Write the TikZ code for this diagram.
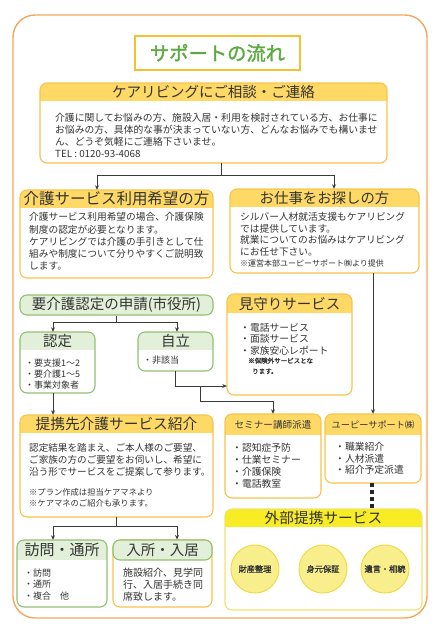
\documentclass[tikz,border=0pt]{standalone}
\usepackage{fontspec}
\setmainfont[AutoFakeBold=1.5]{Noto Sans CJK JP}
\usetikzlibrary{fit,calc,arrows.meta}
\definecolor{gold}{HTML}{FFD966}
\definecolor{goldline}{HTML}{F6C44C}
\definecolor{grn}{HTML}{E3F0D9}
\definecolor{grnline}{HTML}{92C072}
\definecolor{ttlgreen}{HTML}{5BAA3E}
\definecolor{ttlline}{HTML}{F2C230}
\definecolor{outer}{HTML}{F2A75E}
\definecolor{exthd}{HTML}{F8EC24}
\definecolor{extline}{HTML}{EEE46E}
\definecolor{circfill}{HTML}{F8EF8C}
\definecolor{circline}{HTML}{EEDC4A}
\definecolor{txt}{HTML}{333333}
\definecolor{lc}{HTML}{3A3A3A}
% name, x1, y1, x2, y2, header bottom y, header fill, border colour
\newcommand\mkcbox[8]{%
  \node[fit={(#2,#3) (#4,#5)}, inner sep=0pt, fill=white, rounded corners=7pt] (#1) {};
  \begin{scope}
    \clip[rounded corners=7pt] (#2,#3) rectangle (#4,#5);
    \fill[#7] (#2,#3) rectangle (#4,#6);
  \end{scope}
  \draw[#8, line width=1.1pt, rounded corners=7pt] (#2,#3) rectangle (#4,#5);
}
\begin{document}
\begin{tikzpicture}[x=1pt,y=-1pt,
  hd/.style={inner sep=0pt, text=txt},
  bt/.style={anchor=north west, inner sep=0pt, align=left, text=txt},
  arr/.style={draw=lc, line width=0.9pt, -{Stealth[length=4.5pt,width=4pt]}},
  ln/.style={draw=lc, line width=0.9pt},
  dots/.style={draw=black!85, line width=4.5pt, dash pattern=on 4pt off 3pt},
  circ/.style={circle, minimum size=48pt, inner sep=0pt, fill=circfill, draw=circline, line width=1pt, text=txt, font=\fontsize{8.2}{10}\selectfont\bfseries}
]
\useasboundingbox (0,0) rectangle (444,630);
% outer frame
\node[fit={(13,15) (427,618)}, inner sep=0pt, draw=outer, line width=1.4pt, rounded corners=22pt] (frame) {};
% title
\node[draw=ttlline, line width=1.6pt, minimum width=165pt, minimum height=34pt, inner sep=0pt,
  text=ttlgreen, font=\fontsize{19.3}{22}\selectfont\bfseries] (title) at (217.5,53) {サポートの流れ};

% box 1
\mkcbox{b1}{40}{83}{387}{163}{101}{gold}{goldline}
\node[hd, font=\fontsize{14.5}{16}\selectfont] (b1h) at (213.5,92) {ケアリビングにご相談・ご連絡};
\node[bt, font=\fontsize{9.8}{11.9}\selectfont] (b1t) at (55,113) {介護に関してお悩みの方、施設入居・利用を検討されている方、お仕事に\\お悩みの方、具体的な事が決まっていない方、どんなお悩みでも構いませ\\ん、どうぞ気軽にご連絡下さいませ。\\TEL : 0120-93-4068};

% box 2
\mkcbox{b2}{20}{190}{213}{278}{208}{gold}{goldline}
\node[hd, font=\fontsize{15.5}{17}\selectfont] (b2h) at (116.5,199) {介護サービス利用希望の方};
\node[bt, font=\fontsize{9.7}{12.2}\selectfont] (b2t) at (29,212.5) {介護サービス利用希望の場合、介護保険\\制度の認定が必要となります。\\ケアリビングでは介護の手引きとして仕\\組みや制度について分りやすくご説明致\\します。};

% box 3
\mkcbox{b3}{230}{189}{419}{273}{207}{gold}{goldline}
\node[hd, font=\fontsize{14.4}{16}\selectfont] (b3h) at (324.5,198) {お仕事をお探しの方};
\node[bt, font=\fontsize{9.7}{11.5}\selectfont] (b3t) at (240,212.5) {シルバー人材就活支援もケアリビング\\では提供しています。\\就業についてのお悩みはケアリビング\\にお任せ下さい。\\{\fontsize{8}{11}\selectfont ※運営本部ユーピーサポート㈱より提供}};

% application box
\node[fit={(20,295) (213,315)}, inner sep=0pt, fill=grn, draw=grnline, line width=1.1pt, rounded corners=7pt] (sh) {};
\node[hd, font=\fontsize{14.5}{16}\selectfont] (shh) at (116.5,305) {要介護認定の申請(市役所)};

% nintei
\mkcbox{nt}{20}{332}{95}{393}{350}{grn}{grnline}
\node[hd, font=\fontsize{14.5}{16}\selectfont] (nth) at (57.5,341) {認定};
\node[bt, font=\fontsize{9}{11}\selectfont] (ntt) at (25,358.5) {・要支援1～2\\・要介護1～5\\・事業対象者};

% jiritsu
\mkcbox{jr}{138}{332}{213}{371}{350}{grn}{grnline}
\node[hd, font=\fontsize{14.5}{16}\selectfont] (jrh) at (175.5,341) {自立};
\node[bt, font=\fontsize{9}{11}\selectfont] (jrt) at (143,355.5) {・非該当};

% mimamori
\mkcbox{mi}{227}{294}{352}{395}{313}{gold}{goldline}
\node[hd, font=\fontsize{14.5}{16}\selectfont] (mih) at (289.5,303.5) {見守りサービス};
\node[bt, font=\fontsize{9.8}{11.5}\selectfont] (mit) at (240,323) {・電話サービス\\・面談サービス\\・家族安心レポート};
\node[bt, font=\fontsize{6.5}{10.5}\selectfont\bfseries] (min) at (248,357.5) {※保険外サービスとな\\\hspace*{4pt}ります。};

% teikei
\mkcbox{tk}{20}{415}{213}{517}{433}{gold}{goldline}
\node[hd, font=\fontsize{14.7}{16}\selectfont] (tkh) at (116.5,424) {提携先介護サービス紹介};
\node[bt, font=\fontsize{9.6}{12}\selectfont] (tkt) at (29,443.5) {認定結果を踏まえ、ご本人様のご要望、\\ご家族の方のご要望をお伺いし、希望に\\沿う形でサービスをご提案して参ります。};
\node[bt, font=\fontsize{8.3}{11.5}\selectfont] (tkn) at (29,488) {※プラン作成は担当ケアマネより\\※ケアマネのご紹介も承ります。};

% seminar
\mkcbox{se}{225}{414}{321}{498}{435}{gold}{goldline}
\node[hd, font=\fontsize{9.6}{11}\selectfont] (seh) at (273,424.5) {セミナー講師派遣};
\node[bt, font=\fontsize{9.8}{11.8}\selectfont] (set) at (232,443.5) {・認知症予防\\・仕業セミナー\\・介護保険\\・電話教室};

% UP support
\mkcbox{up}{325}{414}{421}{483}{435}{gold}{goldline}
\node[hd, font=\fontsize{9.2}{11}\selectfont] (uph) at (373,424.5) {ユーピーサポート㈱};
\node[bt, font=\fontsize{9.8}{11.5}\selectfont] (upt) at (335,442.5) {・職業紹介\\・人材派遣\\・紹介予定派遣};

% external
\mkcbox{ex}{225}{509}{422}{610}{527}{exthd}{extline}
\node[hd, font=\fontsize{14.7}{16}\selectfont] (exh) at (323.5,518) {外部提携サービス};
\node[circ] (c1) at (255,569) {財産整理};
\node[circ] (c2) at (323,569) {身元保証};
\node[circ] (c3) at (385,569) {遺言・相続};

% houmon
\mkcbox{ho}{17}{540}{107}{607}{560}{grn}{grnline}
\node[hd, font=\fontsize{15}{17}\selectfont] (hoh) at (62,550) {訪問・通所};
\node[bt, font=\fontsize{9}{11.5}\selectfont] (hot) at (24,568.5) {・訪問\\・通所\\・複合　他};

% nyusho
\node[fit={(113,540) (212,607)}, inner sep=0pt, fill=white, draw=goldline, line width=1.1pt, rounded corners=7pt] (ny) {};
\node[fit={(113,540) (212,560)}, inner sep=0pt, fill=grn, draw=grnline, line width=1.1pt, rounded corners=7pt] (nyb) {};
\node[hd, font=\fontsize{14.5}{16}\selectfont] (nyh) at (162.5,550) {入所・入居};
\node[bt, font=\fontsize{10}{11.8}\selectfont] (nyt) at (123,568) {施設紹介、見学同\\行、入居手続き同\\席致します。};

% connectors
\coordinate (j1) at ([xshift=7.5pt]b1.south |- 0,175);
\draw[ln] ([xshift=7.5pt]b1.south) -- (j1);
\draw[arr] (j1) -| ([xshift=-19.5pt]b2.north);
\draw[arr] (j1) -| ([xshift=9.5pt]b3.north);

\coordinate (j2) at (sh.south |- 0,322);
\draw[ln] (sh.south) -- (j2);
\draw[arr] (j2) -| ([xshift=-4.5pt]nt.north);
\draw[arr] (j2) -| ([xshift=1.5pt]jr.north);

\draw[arr] (jr.south) |- ([yshift=-41.5pt]mi.west);
\coordinate (j3) at (200,386);
\draw[arr] (j3) |- ([yshift=12pt]se.north) -- (se.north);

\draw[arr] (b3.south -| up.north) -- (up.north);
\draw[arr] ([xshift=-4.5pt]nt.south) -- ([xshift=-4.5pt]nt.south |- tk.north);

\coordinate (j4) at (tk.south |- 0,526);
\draw[ln] (tk.south) -- (j4);
\draw[arr] (j4) -| ([xshift=-9pt]ho.north);
\draw[arr] (j4) -| ([xshift=14.5pt]ny.north);

\draw[dots] (up.south -| 372,0) -- (ex.north -| 372,0);
\end{tikzpicture}
\end{document}
